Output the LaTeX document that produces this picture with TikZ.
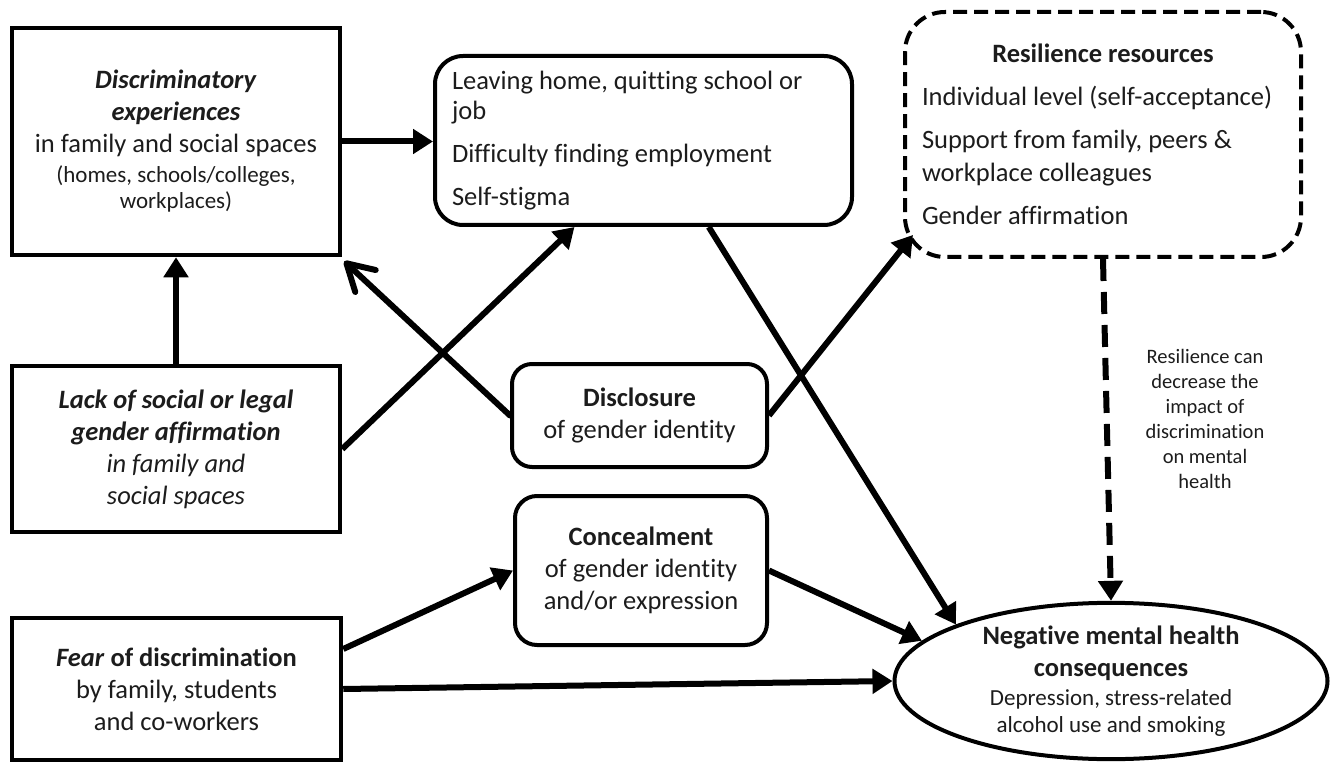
\documentclass[tikz,border=0pt]{standalone}
\usepackage{fontspec}
\setmainfont{Carlito}[Ligatures=NoCommon]
\usetikzlibrary{arrows.meta,shapes.geometric,calc}
\definecolor{ink}{HTML}{1C1C1C}
\newcommand\fsmain{\fontsize{26.5}{32}\selectfont}
\newcommand\fssmall{\fontsize{23}{27}\selectfont}
\newcommand\fsnote{\fontsize{20.5}{25}\selectfont}
\newcommand\natspace{\spaceskip=0pt\xspaceskip=0pt\relax}
\begin{document}
\begin{tikzpicture}[x=1pt,y=-1pt,
  sqbox/.style={draw=black,line width=4.5pt,rectangle,inner sep=0pt,align=center,text=ink,font=\fsmain},
  rbox/.style={sqbox,rounded corners=24pt,line width=4pt},
  dbox/.style={rbox,rounded corners=40pt,dash pattern=on 14pt off 7pt},
  ell/.style={draw=black,line width=4pt,ellipse,inner sep=0pt,align=center,text=ink,font=\fsmain},
  conn/.style={line width=6pt,-{Triangle[length=20pt,width=24pt]}},
  barbconn/.style={line width=6pt,line cap=round,-{Straight Barb[length=26pt,width=30pt,line cap=round,round]}},
  dconn/.style={conn,dash pattern=on 22pt off 11pt},
  note/.style={align=center,text=ink,font=\fsnote}
]
\useasboundingbox (0,0) rectangle (1339,762);

\node[sqbox,minimum width=328pt,minimum height=227pt] (D) at (176,141.5)
  {\natspace\textbf{\textit{Discriminatory}}\\\textbf{\textit{experiences}}\\in family and social spaces\\[-2pt]
   {\fssmall (homes, schools/colleges,}\\[-6pt]{\fssmall workplaces)}};

\node[rbox,rounded corners=28pt,minimum width=417pt,minimum height=169pt,text width=383pt,align=left] (L) at (643.5,140.5)
  {\natspace\mbox{Leaving home, quitting school or}\\[-2pt]\mbox{job}\\[11pt]\mbox{Difficulty finding employment}\\[11pt]\mbox{Self-stigma}};

\node[dbox,minimum width=396pt,minimum height=245pt,text width=362pt,align=left] (R) at (1103,134.5)
  {\natspace\makebox[362pt][c]{\textbf{Resilience resources}}\\[11pt]\mbox{Individual level (self-acceptance)}\\[11pt]\mbox{Support from family, peers \&}\\[1pt]\mbox{workplace colleagues}\\[11pt]\mbox{Gender affirmation}};

\node[sqbox,minimum width=328pt,minimum height=166pt] (K) at (176,449)
  {\textbf{\textit{Lack of social or legal}}\\\textbf{\textit{gender affirmation}}\\\textit{in family and}\\\textit{social spaces}};

\node[sqbox,minimum width=329pt,minimum height=142pt] (F) at (176.5,689)
  {\textbf{\textit{Fear} of discrimination}\\by family, students\\and co-workers};

\node[rbox,rounded corners=20pt,minimum width=255pt,minimum height=103pt] (Ds) at (639.5,415.5)
  {\textbf{Disclosure}\\of gender identity};

\node[rbox,rounded corners=22pt,minimum width=252pt,minimum height=149pt] (C) at (641,570.5)
  {\textbf{Concealment}\\of gender identity\\and/or expression};

\node[ell,minimum width=433pt,minimum height=156pt] (N) at (1111,681)
  {\textbf{Negative mental health}\\\textbf{consequences}\\[-3pt]{\fssmall Depression, stress-related}\\[-5pt]{\fssmall alcohol use and smoking}};

\node[note] (T) at (1205,418.5)
  {Resilience can\\decrease the\\impact of\\discrimination\\on mental\\health};

% connectors
\draw[conn] (D.east) -- (D.east -| L.west);
\draw[conn] (K.north) -- (D.south);
\draw[conn] (K.east) -- ($(L.south west)!0.336!(L.south east)$);
\draw[barbconn] (Ds.west) -- ($(D.south east)+(2,4)$);
\draw[conn] (Ds.east) -- ($(R.south west)+(10,-24)$);
\draw[conn] ($(L.south west)!0.655!(L.south east)$) -- (N.160);
\draw[conn] (C.east) -- (N.168.3);
\draw[conn] ($(F.east)+(0,-40)$) -- (C.west);
\draw[conn] (F.east) -- (N.west);
\draw[dconn] (R.south) -- (N.north);
\end{tikzpicture}
\end{document}
